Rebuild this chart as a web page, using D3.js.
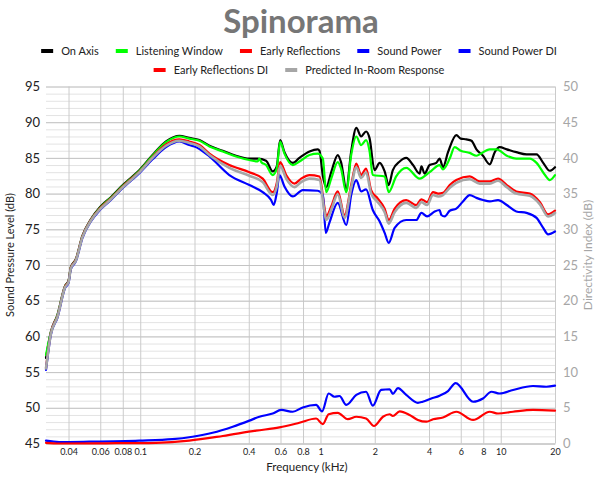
<!DOCTYPE html>
<html>
<head>
<meta charset="utf-8">
<script src="https://cdn.jsdelivr.net/npm/d3@7"></script>
<style>
  html, body { margin: 0; padding: 0; background: #fff; }
  svg { display: block; font-family: Lato, "Open Sans", sans-serif; }
</style>
</head>
<body>
<svg id="chart" width="600" height="479"></svg>
<script>
// ---------- DATA (frequency in kHz, level in dB) ----------
const seriesNames = ["On Axis", "Listening Window", "Early Reflections", "Sound Power",
                     "Sound Power DI", "Early Reflections DI", "Predicted In-Room Response"];

const xTickValues = [0.04, 0.06, 0.08, 0.1, 0.2, 0.4, 0.6, 0.8, 1, 2, 4, 6, 8, 10, 20];
const xTickLabels = ["0.04", "0.06", "0.08", "0.1", "0.2", "0.4", "0.6", "0.8", "1", "2", "4", "6", "8", "10", "20"];
const leftTicks = [45, 50, 55, 60, 65, 70, 75, 80, 85, 90, 95];
const rightTicks = [0, 5, 10, 15, 20, 25, 30, 35, 40, 45, 50];

const onAxis = [[0.03,57.0],[0.0319,60.6],[0.0347,63.0],[0.0383,67.1],[0.040,67.8],[0.0412,69.7],[0.0439,70.8],[0.0478,74.1],[0.0532,76.4],[0.0597,78.1],[0.0687,79.5],[0.0808,81.3],[0.0869,82.0],[0.0991,83.3],[0.117,85.4],[0.139,87.3],[0.165,88.1],[0.187,87.8],[0.213,87.5],[0.242,86.7],[0.287,86.0],[0.340,85.3],[0.403,84.9],[0.448,84.9],[0.499,84.6],[0.543,83.1],[0.572,83.8],[0.597,87.5],[0.631,85.8],[0.702,84.3],[0.764,85.0],[0.869,85.9],[0.966,86.2],[0.987,86.0],[1.03,82.5],[1.076,80.9],[1.147,83.0],[1.247,85.4],[1.30,84.4],[1.39,80.7],[1.48,85.9],[1.58,89.2],[1.68,88.0],[1.79,88.7],[1.87,87.8],[1.995,83.3],[2.13,84.3],[2.27,83.1],[2.39,81.2],[2.52,83.3],[2.75,84.5],[2.99,85.0],[3.26,84.0],[3.55,82.8],[3.63,83.8],[3.78,82.8],[4.03,84.0],[4.39,84.3],[4.58,84.9],[4.78,83.7],[5.10,85.8],[5.67,88.2],[6.0,87.7],[6.45,87.6],[6.88,87.4],[7.33,86.2],[7.97,85.3],[8.69,84.1],[9.26,85.8],[9.87,86.5],[10.8,86.2],[12.2,85.8],[13.9,85.5],[15.8,85.5],[17.2,84.3],[18.7,83.2],[20,83.7]];

const listeningWindow = [[0.03,57.4],[0.0319,60.5],[0.0347,62.9],[0.0383,67.0],[0.040,67.7],[0.0412,69.6],[0.0439,70.7],[0.0478,74.0],[0.0532,76.3],[0.0597,78.0],[0.0687,79.4],[0.0808,81.2],[0.0869,81.9],[0.0991,83.2],[0.117,85.3],[0.139,87.2],[0.165,88.0],[0.187,87.7],[0.213,87.4],[0.242,86.6],[0.287,85.9],[0.340,85.2],[0.403,84.7],[0.448,84.5],[0.458,84.9],[0.47,84.4],[0.499,84.0],[0.543,82.6],[0.572,83.5],[0.597,87.3],[0.631,85.6],[0.702,84.0],[0.764,84.5],[0.869,85.4],[0.966,85.6],[1.03,84.9],[1.076,80.2],[1.147,82.1],[1.247,84.4],[1.30,83.5],[1.39,80.2],[1.48,85.4],[1.58,88.0],[1.68,86.8],[1.79,87.5],[1.87,86.0],[1.95,82.6],[2.27,82.4],[2.39,80.2],[2.63,82.4],[2.99,83.6],[3.55,82.1],[4.03,83.0],[4.58,84.0],[4.78,83.4],[5.21,84.9],[5.55,86.5],[6.0,86.0],[6.73,85.7],[7.33,85.3],[7.64,85.5],[8.69,86.2],[9.47,86.2],[10.8,85.3],[12.2,84.9],[14.5,84.9],[15.8,84.3],[17.6,82.6],[18.7,81.9],[20,82.6]];

const earlyReflections = [[0.03,55.6],[0.0319,60.4],[0.0347,62.8],[0.0383,67.0],[0.040,67.7],[0.0412,69.6],[0.0439,70.7],[0.0478,74.0],[0.0532,76.3],[0.0597,77.9],[0.0687,79.3],[0.0808,81.1],[0.0869,81.8],[0.0991,83.1],[0.117,85.1],[0.139,86.9],[0.165,87.6],[0.187,87.3],[0.213,86.8],[0.242,85.6],[0.312,84.0],[0.403,83.0],[0.478,82.1],[0.543,80.2],[0.572,81.5],[0.597,84.4],[0.645,82.6],[0.717,81.4],[0.781,82.1],[0.869,82.6],[0.987,82.4],[1.05,78.2],[1.076,76.8],[1.147,78.2],[1.247,80.3],[1.36,77.0],[1.48,81.2],[1.58,84.2],[1.68,82.6],[1.79,83.5],[1.91,80.5],[2.08,79.3],[2.27,77.9],[2.39,76.3],[2.58,77.9],[2.99,79.1],[3.40,78.4],[3.63,79.2],[3.9,78.8],[4.21,80.2],[4.5,80.0],[4.78,80.1],[5.21,81.2],[5.67,81.9],[6.73,82.4],[7.64,81.7],[8.69,81.7],[9.66,82.1],[10.8,81.2],[12.2,80.3],[14.5,80.0],[16.5,78.8],[18.3,77.1],[20,77.6]];

const soundPower = [[0.03,55.3],[0.0319,60.2],[0.0347,62.6],[0.0383,66.8],[0.040,67.5],[0.0412,69.4],[0.0439,70.5],[0.0478,73.8],[0.0532,76.1],[0.0597,77.7],[0.0687,79.1],[0.0808,80.9],[0.0869,81.6],[0.0991,82.9],[0.117,84.8],[0.139,86.5],[0.165,87.3],[0.187,86.8],[0.2,86.6],[0.242,85.2],[0.312,82.6],[0.403,81.2],[0.478,80.2],[0.532,79.1],[0.550,78.4],[0.572,80.1],[0.592,82.6],[0.631,81.0],[0.702,79.6],[0.797,80.5],[0.966,80.4],[1.03,79.8],[1.07,74.5],[1.12,75.9],[1.247,78.7],[1.39,75.6],[1.48,79.8],[1.58,81.9],[1.68,80.3],[1.79,80.6],[1.95,77.7],[2.13,76.1],[2.27,74.5],[2.39,73.1],[2.58,75.2],[2.99,76.3],[3.40,76.3],[3.63,77.3],[3.9,76.8],[4.3,77.5],[4.58,77.7],[4.68,77.0],[4.89,76.8],[5.21,77.6],[5.67,77.9],[6.17,78.9],[6.73,79.8],[7.33,79.4],[7.97,79.1],[8.69,78.9],[9.66,79.1],[10.8,78.4],[12.2,77.5],[13.9,77.3],[15.8,76.6],[17.2,75.2],[18.3,74.3],[20,74.7]];

const soundPowerDI = [[0.03,0.4],[0.0355,0.2],[0.0521,0.25],[0.0988,0.4],[0.151,0.6],[0.195,0.95],[0.252,1.5],[0.326,2.35],[0.403,3.2],[0.458,3.75],[0.543,4.2],[0.605,4.7],[0.702,4.45],[0.797,5.05],[0.946,5.4],[1.02,4.5],[1.11,7.0],[1.196,6.55],[1.275,6.65],[1.39,5.4],[1.58,6.8],[1.79,7.25],[1.95,5.3],[2.17,7.5],[2.42,7.6],[2.52,6.95],[2.69,7.75],[2.99,6.8],[3.47,5.7],[3.69,5.85],[4.12,6.3],[4.58,6.7],[5.10,7.35],[5.62,8.45],[7.02,5.85],[7.97,6.3],[8.88,7.25],[9.87,7.0],[11.7,7.5],[15.1,8.05],[17.9,7.95],[20,8.1]];

const earlyReflectionsDI = [[0.03,0.1],[0.0355,0.0],[0.0645,0.03],[0.122,0.1],[0.187,0.4],[0.287,1.05],[0.439,1.8],[0.592,2.25],[0.764,2.9],[0.946,3.5],[1.03,2.7],[1.11,4.1],[1.247,4.3],[1.418,3.4],[1.58,3.75],[1.79,3.5],[1.98,2.45],[2.22,3.75],[2.42,4.1],[2.52,3.85],[2.75,4.5],[3.12,4.0],[3.47,3.3],[3.87,3.05],[4.21,3.4],[4.78,3.65],[5.67,4.45],[7.02,3.3],[8.69,4.45],[9.66,4.2],[11.7,4.45],[15.1,4.7],[20,4.6]];

const predictedInRoom = [[0.03,55.5],[0.0319,60.3],[0.0347,62.7],[0.0383,66.9],[0.040,67.6],[0.0412,69.5],[0.0439,70.6],[0.0478,73.9],[0.0532,76.2],[0.0597,77.8],[0.0687,79.2],[0.0808,81.0],[0.0869,81.7],[0.0991,83.0],[0.117,85.0],[0.139,86.7],[0.165,87.4],[0.187,87.1],[0.213,86.6],[0.242,85.4],[0.312,83.6],[0.403,82.5],[0.478,81.6],[0.543,79.8],[0.572,81.0],[0.597,83.9],[0.645,82.1],[0.717,80.9],[0.781,81.6],[0.869,82.1],[0.987,81.9],[1.05,77.6],[1.076,76.3],[1.147,77.7],[1.247,79.9],[1.36,76.6],[1.48,80.8],[1.58,83.7],[1.68,82.2],[1.79,83.0],[1.91,80.0],[2.08,78.8],[2.27,77.4],[2.39,75.8],[2.58,77.4],[2.99,78.7],[3.40,78.0],[3.63,78.8],[3.9,78.4],[4.21,79.8],[4.5,79.6],[4.78,79.8],[5.21,80.8],[5.67,81.5],[6.73,82.0],[7.64,81.4],[8.69,81.4],[9.66,81.8],[10.8,80.9],[12.2,80.0],[14.5,79.7],[16.5,78.5],[18.3,76.8],[20,77.3]];

const seriesColors = ["#000000", "#00ff00", "#ff0000", "#0000ff", "#0000ff", "#ff0000", "#a6a6a6"];

// ---------- LAYOUT ----------
const m = { left: 46, right: 555, top: 86.5, bottom: 443.5 };
const svg = d3.select("#chart");

const x = d3.scaleLog().domain([0.03, 20]).range([m.left, m.right]);
const y = d3.scaleLinear().domain([45, 95]).range([m.bottom, m.top]);
const yR = d3.scaleLinear().domain([0, 50]).range([m.bottom, m.top]);

// minor horizontal grid (every 1 dB)
svg.append("g").attr("transform", `translate(${m.left},0)`)
  .call(d3.axisLeft(y).tickValues(d3.range(45, 96, 1)).tickSize(-(m.right - m.left)).tickFormat(""))
  .call(g => g.select(".domain").remove())
  .call(g => g.selectAll("line").attr("stroke", "#e3e3e3").attr("stroke-width", 1));

// vertical grid
svg.append("g").attr("transform", `translate(0,${m.bottom})`)
  .call(d3.axisBottom(x).tickValues(xTickValues).tickSize(-(m.bottom - m.top)).tickFormat(""))
  .call(g => g.select(".domain").remove())
  .call(g => g.selectAll("line").attr("stroke", "#cbcbcb").attr("stroke-width", 1));

// major horizontal grid (every 5 dB) + left labels
svg.append("g").attr("transform", `translate(${m.left},0)`)
  .call(d3.axisLeft(y).tickValues(leftTicks).tickSize(-(m.right - m.left)).tickPadding(6).tickFormat(d3.format("d")))
  .call(g => g.select(".domain").remove())
  .call(g => g.selectAll("line").attr("stroke", "#c4c4c4").attr("stroke-width", 1))
  .call(g => g.selectAll("text").attr("fill", "#222").style("font-size", "13px").style("font-family", "Lato, sans-serif"));

// right axis labels
svg.append("g").attr("transform", `translate(${m.right},0)`)
  .call(d3.axisRight(yR).tickValues(rightTicks).tickSize(0).tickPadding(8).tickFormat(d3.format("d")))
  .call(g => g.select(".domain").remove())
  .call(g => g.selectAll("text").attr("fill", "#a6a6a6").style("font-size", "13px").style("font-family", "Lato, sans-serif"));

// bottom axis labels
svg.append("g").attr("transform", `translate(0,${m.bottom})`)
  .call(d3.axisBottom(x).tickValues(xTickValues).tickSize(0).tickPadding(5)
        .tickFormat((d, i) => xTickLabels[i]))
  .call(g => g.select(".domain").attr("stroke", "#c4c4c4"))
  .call(g => g.selectAll("text").attr("fill", "#222").style("font-size", "9px").style("font-family", "Lato, sans-serif"));

// ---------- LINES ----------
const lineL = d3.line().x(d => x(d[0])).y(d => y(d[1])).curve(d3.curveMonotoneX);
const lineR = d3.line().x(d => x(d[0])).y(d => yR(d[1])).curve(d3.curveMonotoneX);

const seriesData = [onAxis, listeningWindow, earlyReflections, soundPower, soundPowerDI, earlyReflectionsDI, predictedInRoom];
const seriesAxis = ["L", "L", "L", "L", "R", "R", "L"];
const widths = [2.2, 2.2, 2.2, 2.2, 2.2, 2.2, 2.6];

const gLines = svg.append("g");
seriesData.forEach((data, i) => {
  gLines.append("path")
    .datum(data)
    .attr("fill", "none")
    .attr("stroke", seriesColors[i])
    .attr("stroke-width", widths[i])
    .attr("stroke-linejoin", "round")
    .attr("stroke-linecap", "round")
    .attr("d", seriesAxis[i] === "L" ? lineL : lineR);
});

// ---------- TITLE ----------
svg.append("text")
  .attr("x", 301).attr("y", 33)
  .attr("text-anchor", "middle")
  .attr("fill", "#767676")
  .style("font-size", "33px").style("font-weight", "bold")
  .style("font-family", "Lato, sans-serif")
  .text("Spinorama");

// ---------- LEGEND ----------
const rows = [[0, 1, 2, 3, 4], [5, 6]];
const rowY = [51, 70];
rows.forEach((row, ri) => {
  const g = svg.append("g");
  let cx = 0;
  row.forEach(idx => {
    const item = g.append("g").attr("transform", `translate(${cx},0)`);
    item.append("rect").attr("x", 0).attr("y", rowY[ri] - 2).attr("width", 12).attr("height", 4)
      .attr("fill", seriesColors[idx]);
    const t = item.append("text").attr("x", 20).attr("y", rowY[ri]).attr("dy", "0.35em")
      .attr("fill", "#222").style("font-size", "11px").style("font-family", "Lato, sans-serif")
      .text(seriesNames[idx]);
    cx += 20 + t.node().getComputedTextLength() + 17;
  });
  const total = cx - 17;
  g.attr("transform", `translate(${299 - total / 2},0)`);
});

// ---------- AXIS TITLES ----------
svg.append("text")
  .attr("transform", `translate(14,${(m.top + m.bottom) / 2 - 10}) rotate(-90)`)
  .attr("text-anchor", "middle").attr("fill", "#222")
  .style("font-size", "11px").style("font-family", "Lato, sans-serif")
  .text("Sound Pressure Level (dB)");

svg.append("text")
  .attr("transform", `translate(592,${(m.top + m.bottom) / 2 - 10}) rotate(-90)`)
  .attr("text-anchor", "middle").attr("fill", "#a6a6a6")
  .style("font-size", "12px").style("font-family", "Lato, sans-serif")
  .text("Directivity Index (dB)");

svg.append("text")
  .attr("x", 307).attr("y", 471)
  .attr("text-anchor", "middle").attr("fill", "#222")
  .style("font-size", "11.5px").style("font-family", "Lato, sans-serif")
  .text("Frequency (kHz)");
</script>
</body>
</html>
